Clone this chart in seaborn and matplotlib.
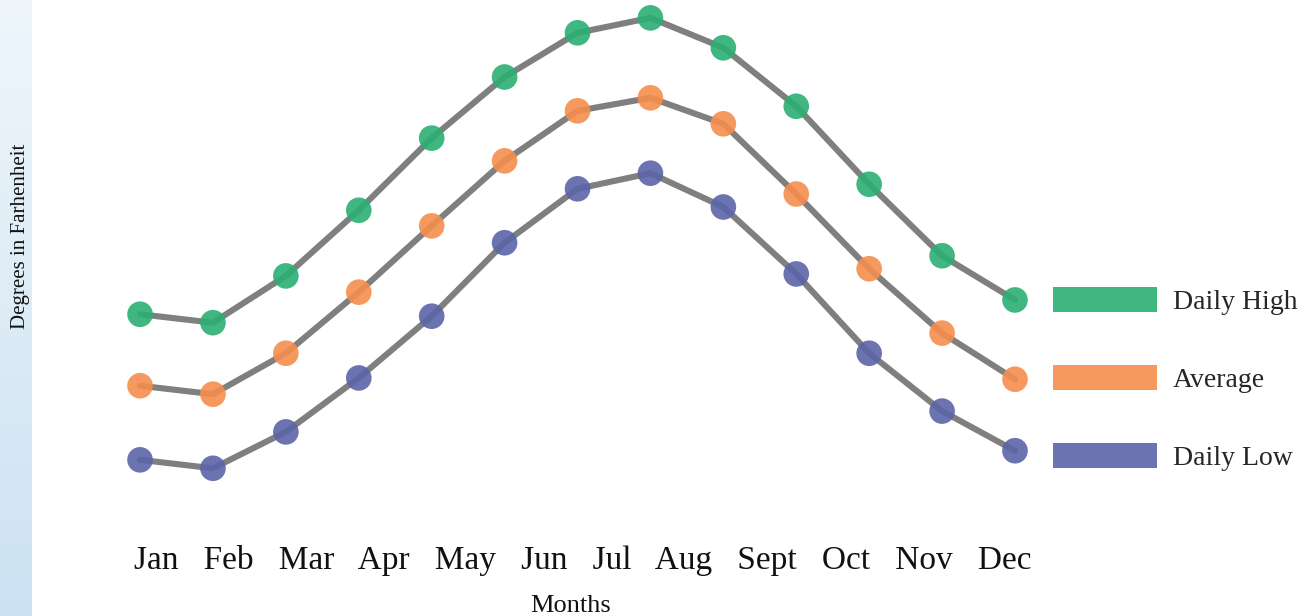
"""Monthly temperature lines (high / average / low) with dot markers."""
import matplotlib.pyplot as plt
import numpy as np
import pandas as pd
import seaborn as sns
from matplotlib.patches import Patch

# values (degrees F, 13 points)
point_idx = list(range(13))
daily_high = [42.5, 41.2, 48.4, 58.5, 69.6, 79.0, 85.8, 88.1, 83.5, 74.5, 62.5, 51.5, 44.7]
average = [31.5, 30.2, 36.5, 45.9, 56.1, 66.1, 73.8, 75.8, 71.8, 61.0, 49.5, 39.6, 32.5]
daily_low = [20.1, 18.8, 24.4, 32.7, 42.2, 53.5, 61.8, 64.2, 59.0, 48.7, 36.5, 27.6, 21.5]
series_names = ["Daily High", "Average", "Daily Low"]
month_labels = ["Jan", "Feb", "Mar", "Apr", "May", "Jun", "Jul", "Aug",
                "Sept", "Oct", "Nov", "Dec"]

palette = {"Daily High": "#2baf72", "Average": "#f58e4d", "Daily Low": "#5c64a9"}
SERIF = ["Liberation Serif", "DejaVu Serif"]

df = pd.concat([
    pd.DataFrame({"idx": point_idx, "temp": vals, "series": name})
    for name, vals in zip(series_names, [daily_high, average, daily_low])
])

sns.set_theme(style="white")
plt.rcParams["font.family"] = SERIF

fig = plt.figure(figsize=(13.12, 6.16), dpi=100)

# light blue gradient strip on the left
strip = fig.add_axes([0, 0, 32 / 1312, 1])
strip.imshow(np.linspace(0, 1, 256).reshape(-1, 1), aspect="auto",
             cmap=sns.blend_palette(["#eef6fb", "#cce2f2"], as_cmap=True))
strip.set_axis_off()

ax = fig.add_axes([100 / 1312, 116 / 616, 950 / 1312, 500 / 616])
sns.lineplot(data=df, x="idx", y="temp", units="series", estimator=None,
             color="#7f7f7f", linewidth=4.4, ax=ax, zorder=2)
sns.scatterplot(data=df, x="idx", y="temp", hue="series", palette=palette,
                s=340, alpha=0.9, linewidth=0, legend=False, ax=ax, zorder=3)
ax.set_xlim(-0.549, 12.48)
ax.set_ylim(13.92, 90.85)
ax.set_axis_off()

fig.text(583 / 1312, 1 - 560 / 616, "   ".join(month_labels), ha="center",
         va="center", fontsize=24, color="#111111")
fig.text(571 / 1312, 1 - 606 / 616, "Months", ha="center", va="center",
         fontsize=19, color="#111111")
fig.text(21 / 1312, 1 - 236 / 616, "Degrees in Farhenheit", ha="center",
         va="center", rotation=90, fontsize=15, color="#111111")

handles = [Patch(facecolor=palette[n], edgecolor="none", alpha=0.9, label=n)
           for n in series_names]
fig.legend(handles=handles, loc="upper left", bbox_to_anchor=(1042 / 1312, 1 - 276 / 616),
           frameon=False, fontsize=20, handlelength=3.74, handleheight=1.0,
           handletextpad=0.58, labelspacing=1.8, borderaxespad=0)

fig.savefig("out.png", dpi=100)
